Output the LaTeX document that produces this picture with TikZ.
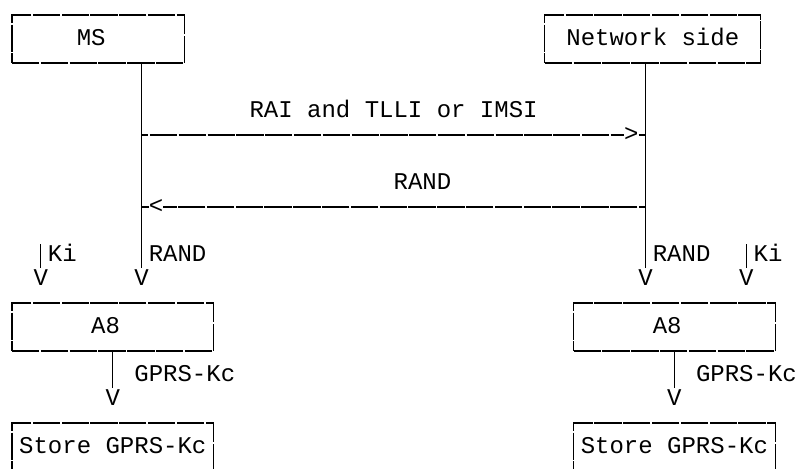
\documentclass[tikz,border=0pt]{standalone}
\usepackage{fontspec}
\setmonofont{Liberation Mono}
\usetikzlibrary{math}

\tikzset{
  txt/.style={font=\ttfamily\fontsize{24}{24}\selectfont, inner sep=0pt, text height=13.7pt, text depth=0pt},
  abox/.style={txt, draw, line width=1.2pt, dash pattern=on 27.3pt off 1.5pt, minimum height=48pt},
  bar/.style={line width=1.2pt},
  dline/.style={line width=1.2pt, dash pattern=on 27.3pt off 1.5pt, dash phase=20.5pt},
}

\begin{document}
\begin{tikzpicture}[x=14.4pt, y=-24pt]
\tikzmath{
\cw=14.4;
}
\useasboundingbox (-0.8333,-0.625) rectangle (54.6528,18.875);

%boxes:
 \node[abox, minimum width=12*\cw pt] (ms) at (6,1) {MS\hphantom{0}};
 \node[abox, minimum width=15*\cw pt] (net) at (44.5,1) {Network side};
 \node[abox, minimum width=14*\cw pt] (a8L) at (7,13) {A8\hphantom{0}};
 \node[abox, minimum width=14*\cw pt] (a8R) at (46,13) {A8\hphantom{0}};
 \node[abox, minimum width=14*\cw pt] (storeL) at (7,18) {Store GPRS-Kc};
 \node[abox, minimum width=14*\cw pt] (storeR) at (46,18) {Store GPRS-Kc};

%V heads
 \node[txt] (vkiL) at (2,11) {V};
 \node[txt] (vrandL) at (9,11) {V};
 \node[txt] (vrandR) at (44,11) {V};
 \node[txt] (vkiR) at (51,11) {V};
 \node[txt] (vkcL) at (7,16) {V};
 \node[txt] (vkcR) at (46,16) {V};
 \node[txt] (gt1) at (43,5) {>};
 \node[txt] (lt2) at (10,8) {<};

%labels
 \node[txt] (msg1) at (26.5,4) {RAI and TLLI or IMSI};
 \node[txt] (msg2) at (28.5,7) {RAND};
 \node[txt] (kiL) at (3.5,10) {Ki};
 \node[txt] (randL) at (11.5,10) {RAND};
 \node[txt] (randR) at (46.5,10) {RAND};
 \node[txt] (kiR) at (52.5,10) {Ki};
 \node[txt] (kcL) at (12,15) {GPRS-Kc};
 \node[txt] (kcR) at (51,15) {GPRS-Kc};

%lifelines
 \draw[bar] (ms.south -| vrandL) -- ([yshift=4pt]vrandL.north);
 \draw[bar] (net.south -| vrandR) -- ([yshift=4pt]vrandR.north);
 \draw[bar] ([yshift=4pt]vkiL.north) -- ++(0,-1);
 \draw[bar] ([yshift=4pt]vkiR.north) -- ++(0,-1);
 \draw[bar] (a8L.south) -- ([yshift=4pt]vkcL.north);
 \draw[bar] (a8R.south) -- ([yshift=4pt]vkcR.north);

%messages
 \draw[dline] (vrandL |- gt1) -- (gt1.west);
 \draw[bar] (gt1.east) -- (vrandR |- gt1);
 \draw[dline] (vrandR |- lt2) -- (lt2.east);
 \draw[bar] (lt2.west) -- (vrandL |- lt2);
\end{tikzpicture}
\end{document}
